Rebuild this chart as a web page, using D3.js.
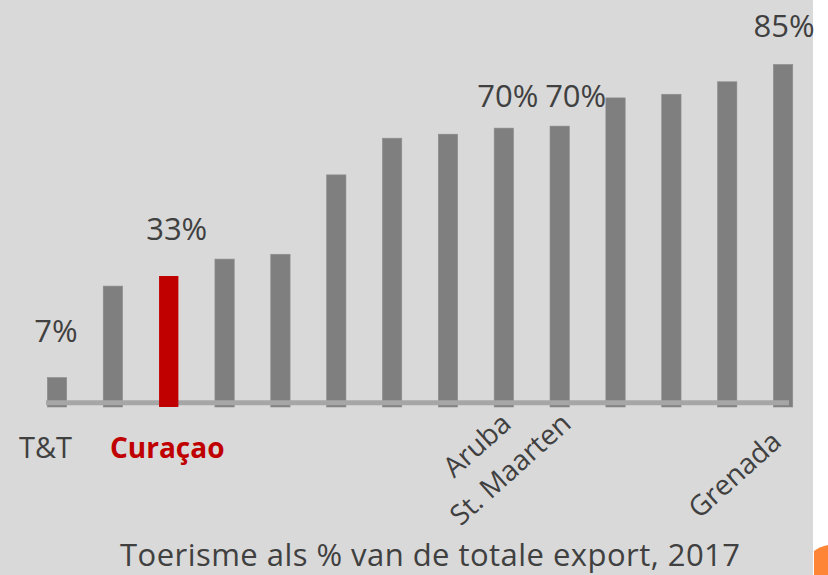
<!DOCTYPE html>
<html>
<head>
<meta charset="utf-8">
<script src="https://cdn.jsdelivr.net/npm/d3@7"></script>
<style>
  html, body { margin: 0; padding: 0; background: #ffffff; }
  svg { display: block; font-family: "Open Sans", sans-serif; }
</style>
</head>
<body>
<div id="chart"></div>
<script>
  // Tourism as % of total exports, 2017 (14 islands, only some are named)
  const countries = ["T&T", "", "Curaçao", "", "", "", "", "", "Aruba", "St. Maarten", "", "", "", "Grenada"];
  const values = [7.3, 30, 32.5, 36.7, 37.9, 57.6, 66.7, 67.7, 69.2, 69.7, 76.7, 77.6, 80.7, 85];
  const valueLabels = ["7%", "", "33%", "", "", "", "", "", "70%", "70%", "", "", "", "85%"];
  const highlight = "Curaçao";
  const title = "Toerisme als % van de totale export, 2017";

  const width = 828, height = 575;

  // hand placed text in the original slide: nudge from bar centre / bar top
  const labelNudge = { 0: [-1, 36], 2: [8, 36], 8: [4, 21], 9: [16, 19], 13: [1, 27] };
  const tickNudge = { 8: [9, 426], 9: [13, 426], 13: [0, 444] };

  const svg = d3.select("#chart").append("svg")
    .attr("width", width)
    .attr("height", height);

  // slide background
  svg.append("rect")
    .attr("x", 0).attr("y", 0)
    .attr("width", 813).attr("height", height)
    .attr("fill", "#d9d9d9");

  // orange corner of the next slide element
  svg.append("path")
    .attr("d", "M814,551 Q820,546.5 828,545 L828,575 L814,575 Z")
    .attr("fill", "#fd8535");

  const x = d3.scaleBand()
    .domain(d3.range(values.length))
    .range([29.1, 811])
    .paddingInner(0.654)
    .paddingOuter(0.327);

  const y = d3.scaleLinear()
    .domain([0, 100])
    .range([407, 4]);

  const grey = values.map((v, i) => i).filter(i => countries[i] !== highlight);
  const red = values.map((v, i) => i).filter(i => countries[i] === highlight);

  svg.append("g")
    .selectAll("rect")
    .data(grey)
    .enter().append("rect")
    .attr("x", i => x(i))
    .attr("y", i => y(values[i]))
    .attr("width", x.bandwidth())
    .attr("height", i => y(0) - y(values[i]))
    .attr("fill", "#7f7f7f")
    .attr("stroke", "#8c8c8c")
    .attr("stroke-width", 0.6);

  // baseline, drawn over the grey bars
  svg.append("line")
    .attr("x1", 46)
    .attr("x2", 789)
    .attr("y1", 402.7)
    .attr("y2", 402.7)
    .attr("stroke", "#a6a6a6")
    .attr("stroke-width", 5);

  svg.append("g")
    .selectAll("rect")
    .data(red)
    .enter().append("rect")
    .attr("x", i => x(i))
    .attr("y", i => y(values[i]))
    .attr("width", x.bandwidth())
    .attr("height", i => y(0) - y(values[i]))
    .attr("fill", "#c00000");

  // value labels
  svg.append("g")
    .selectAll("text")
    .data(valueLabels.map((t, i) => i).filter(i => valueLabels[i] !== ""))
    .enter().append("text")
    .attr("x", i => x(i) + x.bandwidth() / 2 + labelNudge[i][0])
    .attr("y", i => y(values[i]) - labelNudge[i][1])
    .attr("text-anchor", "middle")
    .attr("font-size", 31)
    .attr("fill", "#404040")
    .text(i => valueLabels[i]);

  // category labels: first two flat, the rest rotated
  const named = countries.map((c, i) => i).filter(i => countries[i] !== "");

  svg.append("g")
    .selectAll("text")
    .data(named.filter(i => !tickNudge[i]))
    .enter().append("text")
    .attr("x", i => x(i) + x.bandwidth() / 2 + (countries[i] === highlight ? -1.5 : -11.5))
    .attr("y", 458)
    .attr("text-anchor", "middle")
    .attr("font-size", i => countries[i] === highlight ? 28 : 29)
    .attr("font-weight", i => countries[i] === highlight ? "bold" : "normal")
    .attr("fill", i => countries[i] === highlight ? "#c00000" : "#404040")
    .text(i => countries[i]);

  svg.append("g")
    .selectAll("text")
    .data(named.filter(i => tickNudge[i]))
    .enter().append("text")
    .attr("transform", i => `translate(${x(i) + x.bandwidth() / 2 + tickNudge[i][0]},${tickNudge[i][1]}) rotate(-42)`)
    .attr("text-anchor", "end")
    .attr("font-size", 28)
    .attr("fill", "#404040")
    .text(i => countries[i]);

  // chart title under the axis
  svg.append("text")
    .attr("x", 430)
    .attr("y", 566)
    .attr("text-anchor", "middle")
    .attr("font-size", 31)
    .attr("textLength", 620)
    .attr("lengthAdjust", "spacing")
    .attr("fill", "#404040")
    .text(title);
</script>
</body>
</html>
